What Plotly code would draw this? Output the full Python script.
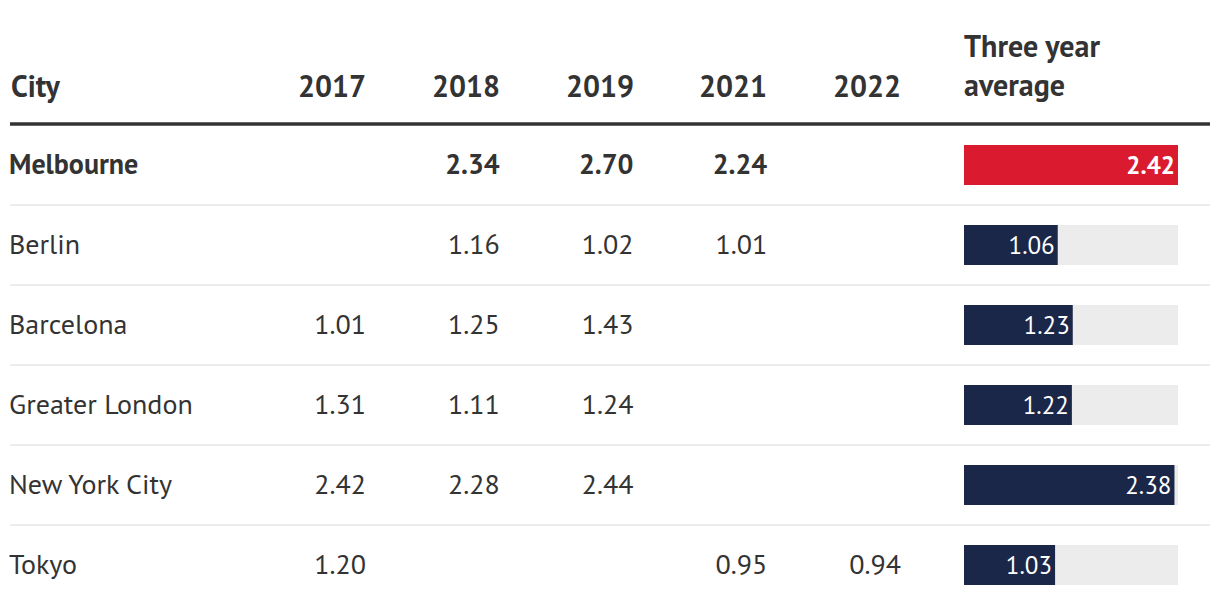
import plotly.graph_objects as go

cities = ["Melbourne", "Berlin", "Barcelona", "Greater London", "New York City", "Tokyo"]
years = ["2017", "2018", "2019", "2021", "2022"]
v2017 = [None, None, 1.01, 1.31, 2.42, 1.20]
v2018 = [2.34, 1.16, 1.25, 1.11, 2.28, None]
v2019 = [2.70, 1.02, 1.43, 1.24, 2.44, None]
v2021 = [2.24, 1.01, None, None, None, 0.95]
v2022 = [None, None, None, None, None, 0.94]
avg3 = [2.42, 1.06, 1.23, 1.22, 2.38, 1.03]
highlight = "Melbourne"

FONT = "PT Sans, Lato, Roboto, sans-serif"
TXT = "#333333"
RED = "#d91a2f"
NAVY = "#1b2748"
TRACK = "#ececec"

W, H = 1220, 614
OFF = 8  # page body margin
cols = [v2017, v2018, v2019, v2021, v2022]

fig = go.Figure()

# numbers in year columns
for yr, vals in zip(years, cols):
    xs, ys, ts = [], [], []
    for c, v in zip(cities, vals):
        if v is None:
            continue
        xs.append(yr)
        ys.append(c)
        ts.append(f"<b>{v:.2f}</b>" if c == highlight else f"{v:.2f}")
    fig.add_trace(go.Scatter(x=xs, y=ys, text=ts, mode="text", textposition="middle left",
                             textfont=dict(family=FONT, size=28, color=TXT),
                             xaxis="x", yaxis="y2", showlegend=False, hoverinfo="skip"))

# city names
fig.add_trace(go.Scatter(x=[0] * len(cities), y=cities,
                         text=[f"<b>{c}</b>" if c == highlight else c for c in cities],
                         mode="text", textposition="middle right",
                         textfont=dict(family=FONT, size=28, color=TXT),
                         xaxis="x2", yaxis="y2", showlegend=False, hoverinfo="skip"))

# bars: track + values
vmax = max(avg3)
fig.add_trace(go.Bar(x=[vmax] * len(cities), y=cities, orientation="h", width=0.5,
                     marker=dict(color=TRACK, line=dict(width=0)),
                     xaxis="x3", yaxis="y", showlegend=False, hoverinfo="skip"))
fig.add_trace(go.Bar(x=avg3, y=cities, orientation="h", width=0.5,
                     marker=dict(color=[RED if c == highlight else NAVY for c in cities], line=dict(width=0)),
                     text=[f"<b>{v:.2f}</b>" if c == highlight else f"{v:.2f}" for c, v in zip(cities, avg3)],
                     textposition="inside", insidetextanchor="end",
                     textfont=dict(family=FONT, size=25, color="white"), textangle=0,
                     xaxis="x3", yaxis="y", showlegend=False, hoverinfo="skip"))

# axis geometry (pixel mapping)
col_step = 133.75
first_col_px = 366 - OFF
x_range = [-first_col_px / col_step, (W - first_col_px) / col_step]
row_step = 80
first_row_px = 165 - OFF
y_range = [(H - first_row_px) / row_step, -first_row_px / row_step]
txt_dy = 2 / row_step
y2_range = [y_range[0] - txt_dy, y_range[1] - txt_dy]
name_px = 9 - OFF
bar_l, bar_r = 964 - OFF, 1178 - OFF

hidden = dict(showgrid=False, zeroline=False, showticklabels=False, showline=False, ticks="")
fig.update_layout(
    width=W, height=H,
    margin=dict(l=0, r=0, t=0, b=0),
    paper_bgcolor="white", plot_bgcolor="rgba(0,0,0,0)",
    barmode="overlay",
    xaxis=dict(type="category", categoryorder="array", categoryarray=years, range=x_range,
               domain=[0, 1], **hidden),
    xaxis2=dict(range=[-name_px / W, 1 - name_px / W], domain=[0, 1], overlaying="x", **hidden),
    xaxis3=dict(range=[0, vmax], domain=[bar_l / W, bar_r / W], anchor="y", **hidden),
    yaxis=dict(type="category", categoryorder="array", categoryarray=cities, range=y_range,
               domain=[0, 1], **hidden),
    yaxis2=dict(type="category", categoryorder="array", categoryarray=cities, range=y2_range,
                domain=[0, 1], overlaying="y", **hidden),
    font=dict(family=FONT, color=TXT),
)

# header row
hdr_font = dict(family=FONT, size=30, color=TXT)
fig.add_annotation(x=(9 - OFF) / W, xref="paper", y=-1, yref="y", text="<b>City</b>", showarrow=False,
                   xanchor="left", yanchor="middle", font=hdr_font)
for i, yr in enumerate(years):
    fig.add_annotation(x=i, xref="x", y=-1, yref="y", text=f"<b>{yr}</b>", showarrow=False,
                       xanchor="right", yanchor="middle", font=hdr_font, xshift=2)
fig.add_annotation(x=0, xref="x3", y=-1, yref="y", text="<b>Three year<br>average</b>", showarrow=False,
                   xanchor="left", yanchor="bottom", align="left", font=hdr_font, yshift=-21, xshift=-2)

# rules
fig.add_shape(type="line", xref="paper", yref="y", x0=(10 - OFF) / W, x1=(1210 - OFF) / W,
              y0=-0.5125, y1=-0.5125, line=dict(color="#333333", width=3.5))
for i in range(len(cities) - 1):
    fig.add_shape(type="line", xref="paper", yref="y", x0=(10 - OFF) / W, x1=(1210 - OFF) / W,
                  y0=i + 0.5, y1=i + 0.5, line=dict(color="#ececec", width=2))

fig.write_html("out.html")
